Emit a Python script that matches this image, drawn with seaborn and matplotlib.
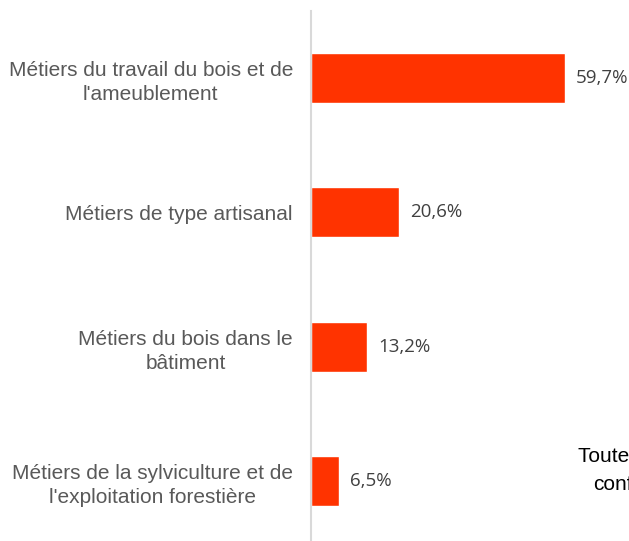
import seaborn as sns
import matplotlib.pyplot as plt
import pandas as pd

categories = [
    "Métiers du travail du bois et de\nl'ameublement",
    "Métiers de type artisanal",
    "Métiers du bois dans le\nbâtiment",
    "Métiers de la sylviculture et de\nl'exploitation forestière",
]
values = [59.7, 20.6, 13.2, 6.5]
value_labels = ["59,7%", "20,6%", "13,2%", "6,5%"]

df = pd.DataFrame({"metier": categories, "part": values})

sns.set_style("white")
plt.rcParams["font.family"] = ["Liberation Sans", "DejaVu Sans"]

fig = plt.figure(figsize=(6.29, 5.41), dpi=100)
ax = fig.add_axes([311 / 629, 0, 318 / 629, 1 - 11 / 541])

sns.barplot(data=df, y="metier", x="part", orient="h", color="#FF3300",
            saturation=1, width=0.372, ax=ax)

ax.set_xlim(0, 318 / 4.25)
ax.set_ylim(3.446, -0.5)
ax.set_xlabel("")
ax.set_ylabel("")
ax.set_xticks([])
for s in ["top", "right", "bottom"]:
    ax.spines[s].set_visible(False)
ax.spines["left"].set_color("#d9d9d9")
ax.spines["left"].set_linewidth(1.5)

ax.tick_params(axis="y", length=0, pad=13)
for lab in ax.get_yticklabels():
    lab.set_fontsize(15)
    lab.set_color("#595959")
    lab.set_multialignment("center")
    lab.set_linespacing(1.35)

for i, (v, t) in enumerate(zip(values, value_labels)):
    ax.annotate(t, (v, i), xytext=(8, 0), textcoords="offset points",
                va="center", ha="left", fontsize=13.5, color="#404040",
                family=["Open Sans", "DejaVu Sans"])

# texte coupé au bord droit, comme sur l'original
fig.text(578 / 629, 1 - 456 / 541, "Toutes formations", fontsize=15,
         color="#000000", va="center", ha="left")
fig.text(593 / 629, 1 - 484 / 541, "confondues", fontsize=15,
         color="#000000", va="center", ha="left")

fig.savefig("out.png", dpi=100)
